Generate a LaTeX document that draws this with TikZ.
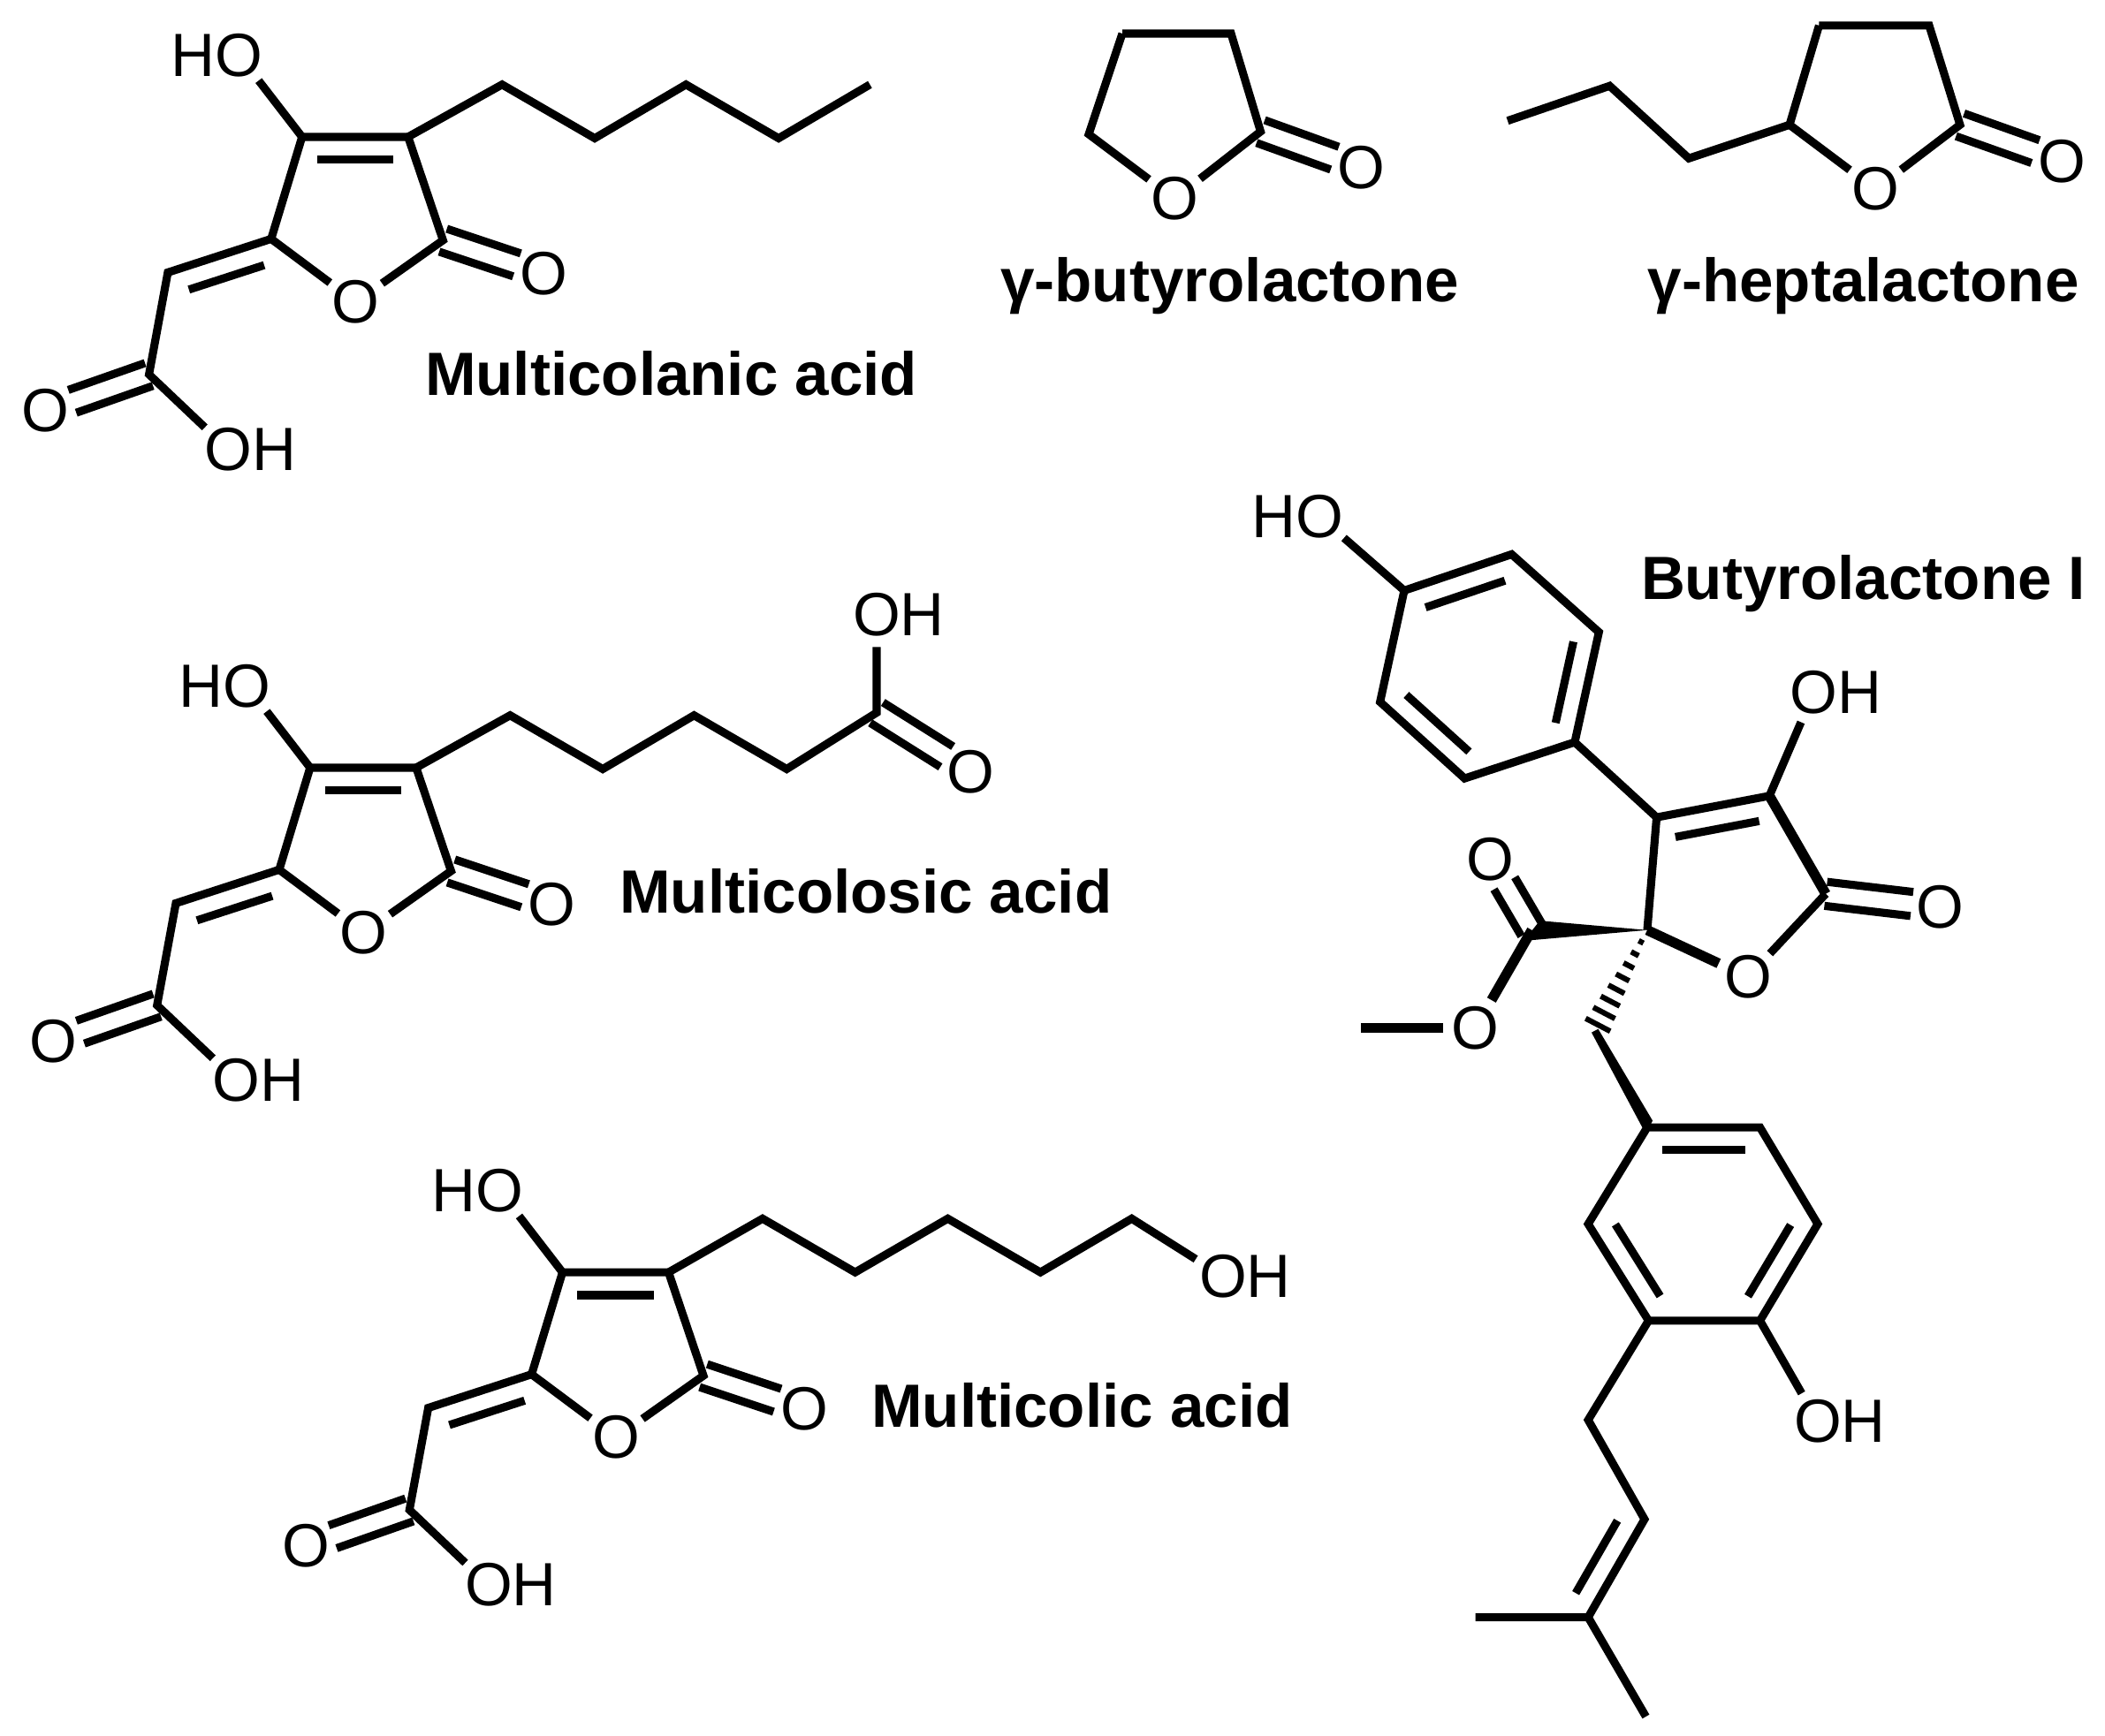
\documentclass[tikz,border=0pt]{standalone}
\usepackage{fontspec}
\setmainfont{Liberation Sans}
\usepackage{tikz}
\usetikzlibrary{calc}
\tikzstyle{bond} = [draw, line width=6pt]
\tikzstyle{fatbond} = [draw, line width=7.5pt]
\tikzstyle{hashbar} = [draw, line width=4pt]
\tikzstyle{wedge} = [fill=black]
\tikzstyle{atom} = [circle, inner sep=0pt, minimum size=41pt, font=\fontsize{45.5}{52}\selectfont]
\tikzstyle{compound} = [inner sep=0pt, font=\fontsize{45.5}{52}\selectfont\bfseries]
\newcommand{\atom}[2]{node (#1) [atom] {#2}}
\newcommand{\compound}[2]{node (#1) [compound] {#2}}
\newcommand{\dblin}[2]{\path [bond,shorten <=11pt,shorten >=11pt] ($(#1)!17pt!90:(#2)$) -- ($(#2)!17pt!-90:(#1)$);}
\newcommand{\dblout}[2]{
\path [bond,shorten >=21pt] ($(#1)!9pt!90:(#2)$) -- ($(#2)!9pt!-90:(#1)$);
\path [bond,shorten >=21pt] ($(#1)!9pt!-90:(#2)$) -- ($(#2)!9pt!90:(#1)$);}
% ring with its acid arm, used three times
\newcommand{\acidcore}[3]{
\begin{scope}[shift={(#2,#3)}]
\path (225,102) coordinate (#1c1);
\path (304,102) coordinate (#1c2);
\path (330,179) coordinate (#1c3);
\path (202,178) coordinate (#1c5);
\path (125,203) coordinate (#1ch);
\path (111,279) coordinate (#1co);
\path (265,225) \atom{#1o}{O};
\path (405,204) \atom{#1ox}{O};
\path (178,41) \atom{#1ho}{\llap{H}O};
\path (34,306) \atom{#1ac}{O};
\path (170,335) \atom{#1oh}{O\rlap{H}};
\path [bond] (#1c1) -- (#1c2) -- (#1c3) -- (#1o) -- (#1c5) -- (#1c1);
\dblin{#1c2}{#1c1}
\dblout{#1c3}{#1ox}
\path [bond] (#1c1) -- (#1ho);
\path [bond] (#1c5) -- (#1ch) -- (#1co) -- (#1oh);
\dblin{#1c5}{#1ch}
\dblout{#1co}{#1ac}
\end{scope}
}
\begin{document}
\begin{tikzpicture}[x=1pt,y=-1pt]
\useasboundingbox (0,0) rectangle (1568,1293);

% multicolanic acid
\acidcore{a}{0}{0}
\path (374,63) coordinate (a1);
\path (443,103) coordinate (a2);
\path (511,63) coordinate (a3);
\path (580,103) coordinate (a4);
\path (648,63) coordinate (a5);
\path [bond] (ac2) -- (a1) -- (a2) -- (a3) -- (a4) -- (a5);
\path (500,278) \compound{ta}{Multicolanic acid};

% multicolosic acid
\acidcore{b}{6}{470}
\path (380,533) coordinate (b1);
\path (449,573) coordinate (b2);
\path (517,533) coordinate (b3);
\path (586,573) coordinate (b4);
\path (653,531) coordinate (b5);
\path (653,458) \atom{bh}{O\rlap{H}};
\path (723,575) \atom{bk}{O};
\path [bond] (bc2) -- (b1) -- (b2) -- (b3) -- (b4) -- (b5) -- (bh);
\dblout{b5}{bk}
\path (645,664) \compound{tb}{Multicolosic acid};

% multicolic acid
\acidcore{c}{194}{846}
\path (568,908) coordinate (c1);
\path (637,948) coordinate (c2);
\path (706,908) coordinate (c3);
\path (775,948) coordinate (c4);
\path (843,908) coordinate (c5);
\path (911,951) \atom{ch}{O\rlap{H}};
\path [bond] (cc2) -- (c1) -- (c2) -- (c3) -- (c4) -- (c5) -- (ch);
\path (806,1047) \compound{tc}{Multicolic acid};

% butyrolactone
\path (836,25) coordinate (d1);
\path (917,25) coordinate (d2);
\path (939,98) coordinate (d3);
\path (811,100) coordinate (d5);
\path (875,148) \atom{do}{O};
\path (1014,125) \atom{dk}{O};
\path [bond] (d1) -- (d2) -- (d3) -- (do) -- (d5) -- (d1);
\dblout{d3}{dk}
\path (916,213) \compound{td}{γ-butyrolactone};

% heptalactone
\path (1355,19) coordinate (e1);
\path (1437,19) coordinate (e2);
\path (1460,93) coordinate (e3);
\path (1333,93) coordinate (e5);
\path (1258,118) coordinate (e6);
\path (1199,64) coordinate (e7);
\path (1123,90) coordinate (e8);
\path (1397,141) \atom{eo}{O};
\path (1536,120) \atom{ek}{O};
\path [bond] (e1) -- (e2) -- (e3) -- (eo) -- (e5) -- (e1);
\path [bond] (e5) -- (e6) -- (e7) -- (e8);
\dblout{e3}{ek}
\path (1388,213) \compound{te}{γ-heptalactone};

% butyrolactone I, upper ring
\path (983,385) \atom{fho}{\llap{H}O};
\path (1046,440) coordinate (f1);
\path (1126,413) coordinate (f2);
\path (1191,471) coordinate (f3);
\path (1173,553) coordinate (f4);
\path (1091,580) coordinate (f5);
\path (1028,523) coordinate (f6);
\path [bond] (f1) -- (f2) -- (f3) -- (f4) -- (f5) -- (f6) -- (f1);
\path [bond] (f1) -- (fho);
\dblin{f2}{f1}
\dblin{f4}{f3}
\dblin{f6}{f5}

% butyrolactone I, lactone ring
\path (1234,609) coordinate (g1);
\path (1318,593) coordinate (g2);
\path (1360,666) coordinate (g3);
\path (1227,693) coordinate (g5);
\path (1302,728) \atom{go}{O};
\path (1445,676) \atom{gk}{O};
\path (1351,516) \atom{gh}{O\rlap{H}};
\path [bond] (f4) -- (g1) -- (g2) -- (gh);
\path [bond] (g3) -- (go);
\path [bond] (g5) -- (g1);
\path [fatbond] (g2) -- (g3);
\path [fatbond] (g5) -- (go);
\dblin{g2}{g1}
\dblout{g3}{gk}

% butyrolactone I, ester
\path (1147,686) coordinate (k1);
\path (1135,701) coordinate (k2);
\path (1141,693) coordinate (k);
\path (1110,640) \atom{ko}{O};
\path (1099,766) \atom{km}{O};
\path (1014,766) coordinate (k3);
\path [wedge] (g5) -- (k1) -- (k2) -- cycle;
\dblout{k}{ko}
\path [fatbond] (k) -- (km);
\path [fatbond] (km) -- (k3);

% butyrolactone I, lower ring
\path (1188,768) coordinate (h0);
\path (1227,840) coordinate (h1);
\path (1311,840) coordinate (h2);
\path (1354,912) coordinate (h3);
\path (1311,984) coordinate (h4);
\path (1228,984) coordinate (h5);
\path (1183,912) coordinate (h6);
\foreach \t/\w in {1/2,2/3.2,3/4.4,4/5.6,5/6.8,6/8,7/9.2,8/10.4} {
\path [hashbar] ($(g5)!\t/8.5!(h0)+(\w*0.88,\w*0.46)$) -- ($(g5)!\t/8.5!(h0)-(\w*0.88,\w*0.46)$);
}
\path [wedge] ($(h0)+(-2.5,1.3)$) -- ($(h0)+(2.5,-1.3)$) -- ($(h1)+(4,-5)$) -- ($(h1)+(-1,5)$) -- cycle;
\path [bond] (h1) -- (h2) -- (h3) -- (h4) -- (h5) -- (h6) -- (h1);
\dblin{h2}{h1}
\dblin{h4}{h3}
\dblin{h6}{h5}
\path (1354,1059) \atom{hh}{O\rlap{H}};
\path [bond] (h4) -- (hh);

% butyrolactone I, prenyl arm
\path (1183,1058) coordinate (p1);
\path (1225,1132) coordinate (p2);
\path (1183,1205) coordinate (p3);
\path (1099,1205) coordinate (p4);
\path (1226,1279) coordinate (p5);
\path [bond] (h5) -- (p1) -- (p2) -- (p3) -- (p4);
\path [bond] (p3) -- (p5);
\dblin{p3}{p2}
\path (1388,435) \compound{tf}{Butyrolactone I};
\end{tikzpicture}
\end{document}
